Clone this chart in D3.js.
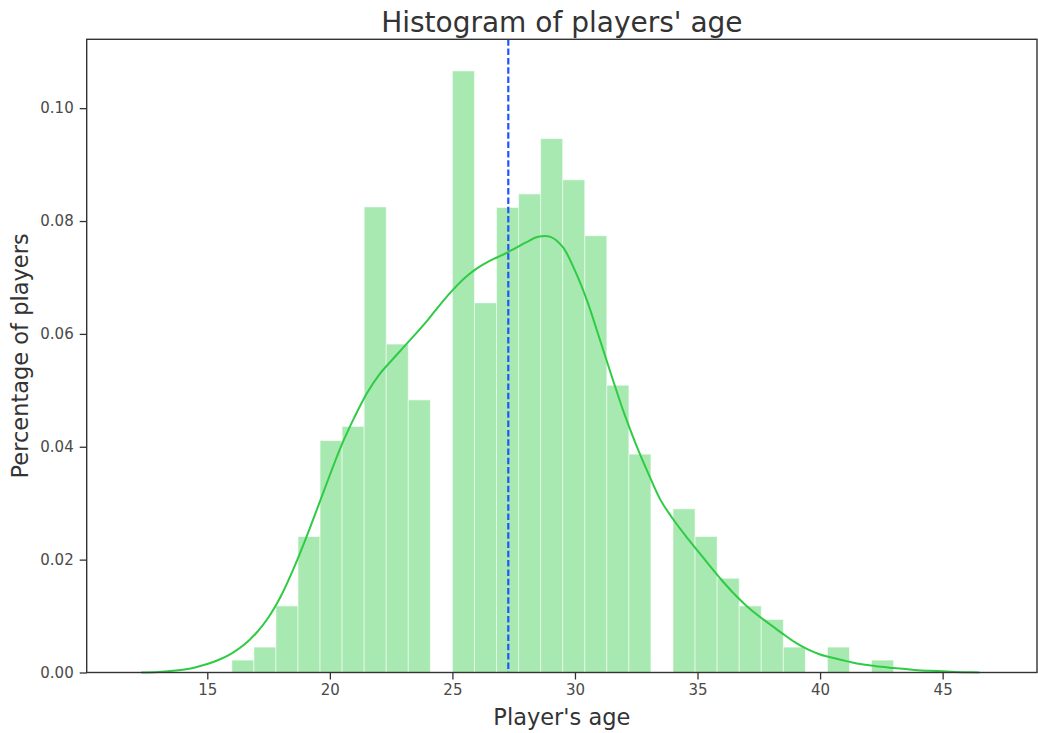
<!DOCTYPE html>
<html>
<head>
<meta charset="utf-8">
<script src="https://cdn.jsdelivr.net/npm/d3@7"></script>
<style>
  html, body { margin: 0; padding: 0; background: #fff; }
  svg { display: block; font-family: "DejaVu Sans", sans-serif; }
</style>
</head>
<body>
<svg id="chart" width="1038" height="733"></svg>
<script>
// Histogram bin edges (years) and normalised density per bin
const binEdges = [16.0, 16.9, 17.8, 18.7, 19.6, 20.5, 21.4, 22.3, 23.2, 24.1,
                  25.0, 25.9, 26.8, 27.7, 28.6, 29.5, 30.4, 31.3, 32.2, 33.1,
                  34.0, 34.9, 35.8, 36.7, 37.6, 38.5, 39.4, 40.3, 41.2, 42.1, 43.0];
const binDensity = [0.0022, 0.0045, 0.0118, 0.0241, 0.0411, 0.0436, 0.0825, 0.0582, 0.0483, 0.0,
                    0.1066, 0.0655, 0.0824, 0.0848, 0.0946, 0.0873, 0.0774, 0.0509, 0.0387, 0.0,
                    0.0290, 0.0241, 0.0167, 0.0118, 0.0094, 0.0045, 0.0, 0.0045, 0.0, 0.0022];

// Kernel density estimate of age
const kdeAge = [12.3, 13.0, 13.6, 14.0, 14.5, 15.0, 15.5, 16.0, 16.5, 17.0, 17.5, 18.0, 18.5,
                19.0, 19.5, 20.0, 20.5, 21.0, 21.5, 22.0, 22.5, 23.0, 23.5, 24.0, 24.5,
                25.0, 25.5, 26.0, 26.5, 27.0, 27.5, 28.0, 28.5, 29.0, 29.5, 30.0,
                30.5, 31.0, 31.5, 32.0, 32.5, 33.0, 33.5, 34.0, 34.5, 35.0, 35.5, 36.0,
                36.5, 37.0, 37.5, 38.0, 38.5, 39.0, 39.5, 40.0, 40.5, 41.0, 41.5, 42.0,
                42.5, 43.0, 43.5, 44.0, 44.5, 45.0, 45.5, 46.0, 46.5];
const kdeDensity = [0.0, 0.0001, 0.0003, 0.0005, 0.0009, 0.0015, 0.0023, 0.0034, 0.0049, 0.0070,
                    0.0098, 0.0135, 0.0182, 0.0235, 0.0292, 0.0350, 0.0405, 0.0452, 0.0494,
                    0.0527, 0.0552, 0.0576, 0.0600, 0.0625, 0.0652, 0.0677, 0.0699, 0.0716,
                    0.0729, 0.0739, 0.0750, 0.0762, 0.0772, 0.0772, 0.0754, 0.0712,
                    0.0658, 0.0592, 0.0525, 0.0460, 0.0403, 0.0352, 0.0305, 0.0272, 0.0243,
                    0.0216, 0.0189, 0.0163, 0.0139, 0.0118, 0.0100, 0.0084, 0.0068, 0.0053,
                    0.0041, 0.0032, 0.0026, 0.0021, 0.0016, 0.0013, 0.0010, 0.0008, 0.0006,
                    0.0004, 0.0003, 0.0002, 0.0001, 0.00005, 0.0];

// Mean age marker
const meanAge = 27.28;

const xTicks = [15, 20, 25, 30, 35, 40, 45];
const yTicks = [0.00, 0.02, 0.04, 0.06, 0.08, 0.10];

const titleText = "Histogram of players' age";
const xLabelText = "Player's age";
const yLabelText = "Percentage of players";

// Layout
const plot = { left: 86.7, right: 1037, top: 39.3, bottom: 672.5 };
const barColor = "#2fcb45";
const inkColor = "#333333";

const svg = d3.select("#chart");

const x = d3.scaleLinear().domain([10.08, 48.85]).range([plot.left, plot.right]);
const y = d3.scaleLinear().domain([0, 0.1122]).range([plot.bottom, plot.top]);

// Bars
const bins = binDensity.map((v, i) => ({ x0: binEdges[i], x1: binEdges[i + 1], v }));
svg.append("g")
  .selectAll("rect")
  .data(bins.filter(b => b.v > 0))
  .join("rect")
  .attr("x", b => x(b.x0))
  .attr("width", b => x(b.x1) - x(b.x0))
  .attr("y", b => y(b.v))
  .attr("height", b => y(0) - y(b.v))
  .attr("fill", barColor)
  .attr("fill-opacity", 0.42)
  .attr("stroke", "#ffffff")
  .attr("stroke-opacity", 0.55)
  .attr("stroke-width", 1);

// Density curve
const kde = kdeAge.map((a, i) => [a, kdeDensity[i]]);
svg.append("path")
  .datum(kde)
  .attr("fill", "none")
  .attr("stroke", barColor)
  .attr("stroke-width", 2)
  .attr("d", d3.line().x(d => x(d[0])).y(d => y(d[1])).curve(d3.curveCatmullRom.alpha(0.5)));

// Mean line
svg.append("line")
  .attr("x1", x(meanAge)).attr("x2", x(meanAge))
  .attr("y1", y.range()[1]).attr("y2", y.range()[0])
  .attr("stroke", "#1f55ff")
  .attr("stroke-width", 2.2)
  .attr("stroke-dasharray", "6.5,2.8");

// Axes
const xAxis = svg.append("g")
  .attr("transform", `translate(0,${plot.bottom})`)
  .call(d3.axisBottom(x).tickValues(xTicks).tickFormat(d3.format("d")).tickSizeOuter(0).tickSize(7).tickPadding(5));
const yAxis = svg.append("g")
  .attr("transform", `translate(${plot.left},0)`)
  .call(d3.axisLeft(y).tickValues(yTicks).tickFormat(d3.format(".2f")).tickSizeOuter(0).tickSize(7).tickPadding(6));

[xAxis, yAxis].forEach(g => {
  g.select(".domain").remove();
  g.selectAll(".tick line").attr("stroke", inkColor).attr("stroke-width", 1.3);
  g.selectAll(".tick text").attr("fill", "#4a4a4a").style("font-size", "15px").style("font-family", "DejaVu Sans");
});

// Frame
svg.append("rect")
  .attr("x", plot.left).attr("y", plot.top)
  .attr("width", plot.right - plot.left).attr("height", plot.bottom - plot.top)
  .attr("fill", "none").attr("stroke", inkColor).attr("stroke-width", 1.4);

// Title and labels
svg.append("text")
  .attr("x", (plot.left + plot.right) / 2).attr("y", 31.5)
  .attr("text-anchor", "middle")
  .attr("fill", inkColor)
  .style("font-size", "28px")
  .text(titleText);

svg.append("text")
  .attr("x", (plot.left + plot.right) / 2).attr("y", 725)
  .attr("text-anchor", "middle")
  .attr("fill", inkColor)
  .style("font-size", "22.5px")
  .text(xLabelText);

svg.append("text")
  .attr("transform", `translate(28,${(plot.top + plot.bottom) / 2}) rotate(-90)`)
  .attr("text-anchor", "middle")
  .attr("fill", inkColor)
  .style("font-size", "22.5px")
  .text(yLabelText);
</script>
</body>
</html>
